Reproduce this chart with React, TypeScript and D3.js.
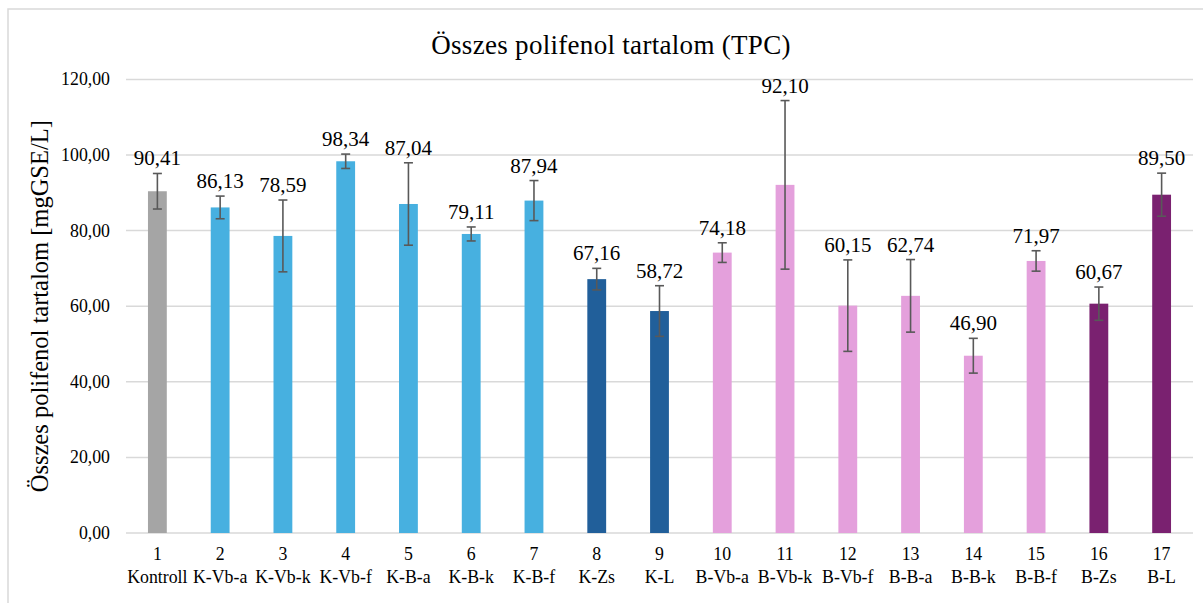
import React from "react";
import * as d3 from "d3";

const numbers = ["1","2","3","4","5","6","7","8","9","10","11","12","13","14","15","16","17"];
const categories = ["Kontroll","K-Vb-a","K-Vb-k","K-Vb-f","K-B-a","K-B-k","K-B-f","K-Zs","K-L","B-Vb-a","B-Vb-k","B-Vb-f","B-B-a","B-B-k","B-B-f","B-Zs","B-L"];
const values = [90.41,86.13,78.59,98.34,87.04,79.11,87.94,67.16,58.72,74.18,92.10,60.15,62.74,46.90,71.97,60.67,89.50];
const errors = [4.7,3.0,9.5,1.9,10.9,1.85,5.3,2.85,6.7,2.6,22.3,12.1,9.6,4.6,2.7,4.4,5.7];
const groups = ["ctrl","kb","kb","kb","kb","kb","kb","kd","kd","bp","bp","bp","bp","bp","bp","bd","bd"];
const yTicks = [0,20,40,60,80,100,120];

const colors: Record<string,string> = {
  ctrl: "#A5A5A5",
  kb: "#47B0E0",
  kd: "#215F9A",
  bp: "#E4A0DC",
  bd: "#7A2170",
};

const W = 1203, H = 603;
const M = { left: 126, right: 1193, top: 79.4, bottom: 533 };
const fmt = (v: number) => v.toFixed(2).replace(".", ",");
const FONT = "'Liberation Serif', 'Times New Roman', serif";

export default function App() {
  const x = d3.scaleBand<number>().domain(d3.range(values.length)).range([M.left, M.right]).paddingInner(0.7).paddingOuter(0.35);
  const y = d3.scaleLinear().domain([0, 120]).range([M.bottom, M.top]);
  const bw = x.bandwidth();
  const ts = { fontFamily: FONT } as React.CSSProperties;
  return (
    <svg width={W} height={H} style={{ position: "absolute", left: 0, top: 0, background: "#fff", fontFamily: FONT }}>
      <rect x={8} y={9} width={1210} height={610} fill="#fff" stroke="#d9d9d9" strokeWidth={1.5} />
      <text style={ts} x={611} y={54} textAnchor="middle" fontSize={27} letterSpacing={0.3} fill="#000">Összes polifenol tartalom (TPC)</text>
      <text style={ts} transform={`translate(48,${(M.top + M.bottom) / 2}) rotate(-90)`} textAnchor="middle" fontSize={24.5} fill="#000">Összes polifenol tartalom [mgGSE/L]</text>
      {yTicks.map(t => (
        <g key={t}>
          <line x1={M.left} x2={M.right} y1={y(t)} y2={y(t)} stroke="#d9d9d9" strokeWidth={1.5} />
          <text style={ts} x={110} y={y(t) + 6} textAnchor="end" fontSize={17.8} fill="#000">{fmt(t)}</text>
        </g>
      ))}
      {values.map((v, i) => {
        const x0 = x(i)!;
        const cx = x0 + bw / 2;
        const eTop = y(v + errors[i]);
        const eBot = y(v - errors[i]);
        return (
          <g key={i}>
            <rect x={x0} y={y(v)} width={bw} height={y(0) - y(v)} fill={colors[groups[i]]} />
            <line x1={cx} x2={cx} y1={eTop} y2={eBot} stroke="#595959" strokeWidth={1.6} />
            <line x1={cx - 4.5} x2={cx + 4.5} y1={eTop} y2={eTop} stroke="#595959" strokeWidth={1.6} />
            <line x1={cx - 4.5} x2={cx + 4.5} y1={eBot} y2={eBot} stroke="#595959" strokeWidth={1.6} />
            <text style={ts} x={cx} y={eTop - 8} textAnchor="middle" fontSize={21} fill="#000">{fmt(v)}</text>
            <text style={ts} x={cx} y={560} textAnchor="middle" fontSize={17.8} fill="#000">{numbers[i]}</text>
            <text style={ts} x={cx} y={582.5} textAnchor="middle" fontSize={17.8} fill="#000">{categories[i]}</text>
          </g>
        );
      })}
    </svg>
  );
}
